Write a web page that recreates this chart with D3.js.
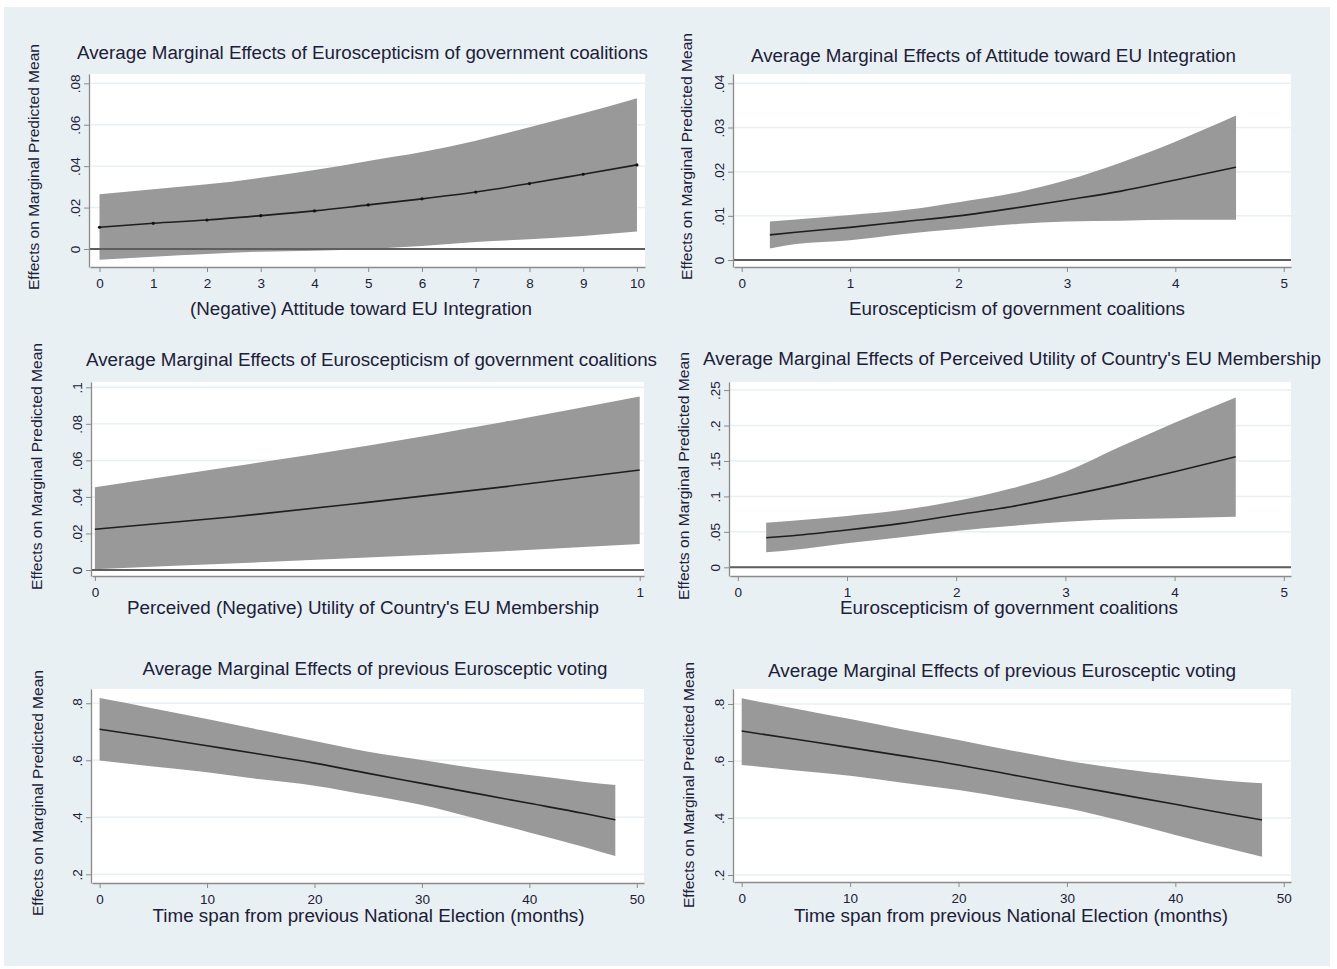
<!DOCTYPE html>
<html>
<head>
<meta charset="utf-8">
<script src="https://cdn.jsdelivr.net/npm/d3@7"></script>
<style>
  body { margin: 0; background: #fff; }
  svg { display: block; font-family: 'Liberation Sans', Arial, sans-serif; }
</style>
</head>
<body>
<svg id="chart" width="1337" height="969"></svg>
<script>
// ---- data ----
const yLabel = 'Effects on Marginal Predicted Mean';

// panel 1
const p1Title = 'Average Marginal Effects of Euroscepticism of government coalitions';
const p1XLabel = '(Negative) Attitude toward EU Integration';
const p1X = [0, 1, 2, 3, 4, 5, 6, 7, 8, 9, 10];
const p1Fit = [0.0105, 0.0124, 0.0140, 0.0161, 0.0184, 0.0213, 0.0242, 0.0275, 0.0316, 0.0361, 0.0406];
const p1Hi = [0.0264, 0.0288, 0.0312, 0.0344, 0.0381, 0.0425, 0.0468, 0.0523, 0.0588, 0.0655, 0.0728];
const p1Lo = [-0.0052, -0.0037, -0.0024, -0.0013, -0.0008, 0.0000, 0.0014, 0.0034, 0.0047, 0.0063, 0.0084];
const p1XTicks = [0, 1, 2, 3, 4, 5, 6, 7, 8, 9, 10];
const p1YTicks = [0, 0.02, 0.04, 0.06, 0.08];
const p1YTickLabels = ['0', '.02', '.04', '.06', '.08'];

// panel 2
const p2Title = 'Average Marginal Effects of Attitude toward EU Integration';
const p2XLabel = 'Euroscepticism of government coalitions';
const p2X = [0.26, 0.5, 1, 1.5, 2, 2.5, 3, 3.5, 4, 4.56];
const p2Fit = [0.0057, 0.0063, 0.0074, 0.0087, 0.0100, 0.0117, 0.0136, 0.0156, 0.0181, 0.0210];
const p2Hi = [0.0087, 0.0092, 0.0102, 0.0113, 0.0131, 0.0151, 0.0181, 0.0221, 0.0268, 0.0327];
const p2Lo = [0.0026, 0.0036, 0.0045, 0.0059, 0.0070, 0.0081, 0.0087, 0.0089, 0.0091, 0.0091];
const p2XTicks = [0, 1, 2, 3, 4, 5];
const p2YTicks = [0, 0.01, 0.02, 0.03, 0.04];
const p2YTickLabels = ['0', '.01', '.02', '.03', '.04'];

// panel 3
const p3Title = 'Average Marginal Effects of Euroscepticism of government coalitions';
const p3XLabel = "Perceived (Negative) Utility of Country's EU Membership";
const p3X = [0, 0.25, 0.5, 0.75, 1];
const p3Fit = [0.0223, 0.0290, 0.0370, 0.0455, 0.0547];
const p3Hi = [0.0453, 0.0565, 0.0680, 0.0810, 0.0949];
const p3Lo = [0.0004, 0.0035, 0.0068, 0.0103, 0.0142];
const p3XTicks = [0, 1];
const p3YTicks = [0, 0.02, 0.04, 0.06, 0.08, 0.1];
const p3YTickLabels = ['0', '.02', '.04', '.06', '.08', '.1'];

// panel 4
const p4Title = "Average Marginal Effects of Perceived Utility of Country's EU Membership";
const p4XLabel = 'Euroscepticism of government coalitions';
const p4X = [0.26, 0.5, 1, 1.5, 2, 2.5, 3, 3.5, 4, 4.56];
const p4Fit = [0.0417, 0.0446, 0.0526, 0.0620, 0.0738, 0.0855, 0.1006, 0.1170, 0.1349, 0.1560];
const p4Hi = [0.0629, 0.0657, 0.0724, 0.0808, 0.0935, 0.1110, 0.1349, 0.1700, 0.2040, 0.2397];
const p4Lo = [0.0211, 0.0244, 0.0338, 0.0423, 0.0512, 0.0582, 0.0643, 0.0677, 0.0691, 0.0714];
const p4XTicks = [0, 1, 2, 3, 4, 5];
const p4YTicks = [0, 0.05, 0.1, 0.15, 0.2, 0.25];
const p4YTickLabels = ['0', '.05', '.1', '.15', '.2', '.25'];

// panel 5
const p5Title = 'Average Marginal Effects of previous Eurosceptic voting';
const p5XLabel = 'Time span from previous National Election (months)';
const p5X = [0, 5, 10, 15, 20, 25, 30, 35, 40, 45, 48];
const p5Fit = [0.709, 0.681, 0.651, 0.621, 0.590, 0.554, 0.519, 0.484, 0.449, 0.414, 0.391];
const p5Hi = [0.818, 0.782, 0.745, 0.706, 0.668, 0.630, 0.601, 0.572, 0.548, 0.525, 0.513];
const p5Lo = [0.599, 0.578, 0.558, 0.533, 0.511, 0.478, 0.443, 0.396, 0.347, 0.297, 0.264];
const p5XTicks = [0, 10, 20, 30, 40, 50];
const p5YTicks = [0.2, 0.4, 0.6, 0.8];
const p5YTickLabels = ['.2', '.4', '.6', '.8'];

// panel 6
const p6Title = 'Average Marginal Effects of previous Eurosceptic voting';
const p6XLabel = 'Time span from previous National Election (months)';
const p6X = [0, 5, 10, 15, 20, 25, 30, 35, 40, 45, 48];
const p6Fit = [0.705, 0.676, 0.647, 0.617, 0.586, 0.551, 0.516, 0.482, 0.448, 0.413, 0.393];
const p6Hi = [0.820, 0.783, 0.747, 0.710, 0.674, 0.636, 0.601, 0.573, 0.550, 0.530, 0.522];
const p6Lo = [0.586, 0.567, 0.548, 0.523, 0.498, 0.467, 0.434, 0.390, 0.340, 0.292, 0.264];
const p6XTicks = [0, 10, 20, 30, 40, 50];
const p6YTicks = [0.2, 0.4, 0.6, 0.8];
const p6YTickLabels = ['.2', '.4', '.6', '.8'];

// ---- layout (plot rectangles, scale domains, text placement) ----
const layout = [
  { left: 90, top: 74, right: 645, bottom: 267, xDom: [-0.177, 10.15], yDom: [-0.0087, 0.0845],
    titleX: 362.5, titleY: 59, titleW: 571, xlabX: 361, xlabY: 315, xlabW: 342, ylabX: 34, ylabY: 167, ylabW: 246 },
  { left: 734, top: 74, right: 1291, bottom: 267, xDom: [-0.071, 5.067], yDom: [-0.00158, 0.04211],
    titleX: 993.5, titleY: 62, titleW: 485, xlabX: 1017, xlabY: 315, xlabW: 336, ylabX: 687, ylabY: 156.5, ylabW: 247 },
  { left: 92, top: 382, right: 644, bottom: 576, xDom: [-0.0053, 1.0079], yDom: [-0.00328, 0.1029],
    titleX: 371.5, titleY: 366, titleW: 571, xlabX: 363, xlabY: 614, xlabW: 472, ylabX: 37, ylabY: 466.5, ylabW: 247 },
  { left: 730, top: 382, right: 1291, bottom: 576, xDom: [-0.0714, 5.066], yDom: [-0.01227, 0.2614],
    titleX: 1012, titleY: 365, titleW: 618, xlabX: 1009, xlabY: 614, xlabW: 338, ylabX: 684, ylabY: 476, ylabW: 248 },
  { left: 92, top: 689, right: 644, bottom: 883, xDom: [-0.707, 50.67], yDom: [0.1695, 0.850],
    titleX: 375, titleY: 675, titleW: 465, xlabX: 368.5, xlabY: 922, xlabW: 432, ylabX: 38, ylabY: 793, ylabW: 246 },
  { left: 734, top: 689, right: 1291, bottom: 882, xDom: [-0.71, 50.67], yDom: [0.1754, 0.8526],
    titleX: 1002, titleY: 677, titleW: 468, xlabX: 1011, xlabY: 922, xlabW: 434, ylabX: 689, ylabY: 785, ylabW: 246 },
];

const panels = [
  { title: p1Title, xlab: p1XLabel, x: p1X, fit: p1Fit, hi: p1Hi, lo: p1Lo, xTicks: p1XTicks, yTicks: p1YTicks, yTickLabels: p1YTickLabels, markers: true, zero: true },
  { title: p2Title, xlab: p2XLabel, x: p2X, fit: p2Fit, hi: p2Hi, lo: p2Lo, xTicks: p2XTicks, yTicks: p2YTicks, yTickLabels: p2YTickLabels, markers: false, zero: true },
  { title: p3Title, xlab: p3XLabel, x: p3X, fit: p3Fit, hi: p3Hi, lo: p3Lo, xTicks: p3XTicks, yTicks: p3YTicks, yTickLabels: p3YTickLabels, markers: false, zero: true },
  { title: p4Title, xlab: p4XLabel, x: p4X, fit: p4Fit, hi: p4Hi, lo: p4Lo, xTicks: p4XTicks, yTicks: p4YTicks, yTickLabels: p4YTickLabels, markers: false, zero: true },
  { title: p5Title, xlab: p5XLabel, x: p5X, fit: p5Fit, hi: p5Hi, lo: p5Lo, xTicks: p5XTicks, yTicks: p5YTicks, yTickLabels: p5YTickLabels, markers: false, zero: false },
  { title: p6Title, xlab: p6XLabel, x: p6X, fit: p6Fit, hi: p6Hi, lo: p6Lo, xTicks: p6XTicks, yTicks: p6YTicks, yTickLabels: p6YTickLabels, markers: false, zero: false },
];

const textColor = '#1c2038';
const bandColor = '#999999';
const axisColor = '#8a8a8a';
const gridColor = '#e9f0f3';

const svg = d3.select('#chart');

// graph region background
svg.append('rect')
  .attr('x', 4).attr('y', 7)
  .attr('width', 1326).attr('height', 959)
  .attr('fill', '#e9f0f3');

panels.forEach((p, i) => {
  const L = layout[i];
  const g = svg.append('g');

  const x = d3.scaleLinear().domain(L.xDom).range([L.left, L.right]);
  const y = d3.scaleLinear().domain(L.yDom).range([L.bottom, L.top]);

  // plot region
  g.append('rect')
    .attr('x', L.left).attr('y', L.top)
    .attr('width', L.right - L.left).attr('height', L.bottom - L.top)
    .attr('fill', '#fff');

  // horizontal grid lines at each y tick
  g.selectAll('.grid')
    .data(p.yTicks)
    .join('line')
      .attr('class', 'grid')
      .attr('x1', L.left).attr('x2', L.right)
      .attr('y1', d => y(d)).attr('y2', d => y(d))
      .attr('stroke', gridColor)
      .attr('stroke-width', 1.5);

  const rows = p.x.map((xv, j) => ({ x: xv, fit: p.fit[j], hi: p.hi[j], lo: p.lo[j] }));

  const area = d3.area()
    .x(d => x(d.x))
    .y0(d => y(d.lo))
    .y1(d => y(d.hi))
    .curve(d3.curveMonotoneX);

  const line = d3.line()
    .x(d => x(d.x))
    .y(d => y(d.fit))
    .curve(d3.curveMonotoneX);

  g.append('path')
    .datum(rows)
    .attr('d', area)
    .attr('fill', bandColor);

  // reference line at zero
  if (p.zero) {
    g.append('line')
      .attr('x1', L.left).attr('x2', L.right)
      .attr('y1', y(0)).attr('y2', y(0))
      .attr('stroke', '#5e5e5e')
      .attr('stroke-width', 2);
  }

  g.append('path')
    .datum(rows)
    .attr('d', line)
    .attr('fill', 'none')
    .attr('stroke', '#1e1e1e')
    .attr('stroke-width', 1.6);

  if (p.markers) {
    g.selectAll('.pt')
      .data(rows)
      .join('circle')
        .attr('class', 'pt')
        .attr('cx', d => x(d.x))
        .attr('cy', d => y(d.fit))
        .attr('r', 1.6)
        .attr('fill', '#111');
  }

  // x axis
  const xAxis = g.append('g')
    .attr('transform', `translate(0, ${L.bottom})`)
    .call(d3.axisBottom(x).tickValues(p.xTicks).tickSize(5).tickSizeOuter(0).tickPadding(6)
      .tickFormat(d3.format('d')))
    .style('font-family', 'Liberation Sans, Arial, sans-serif')
    .style('font-size', '13.5px');
  xAxis.select('.domain').attr('stroke', axisColor).attr('stroke-width', 1.3);
  xAxis.selectAll('.tick line').attr('stroke', axisColor);
  xAxis.selectAll('.tick text').attr('fill', textColor);

  // y axis with vertical tick labels
  const yAxis = g.append('g')
    .attr('transform', `translate(${L.left - 1}, 0)`)
    .call(d3.axisLeft(y).tickValues(p.yTicks).tickSize(5).tickSizeOuter(0)
      .tickFormat((d, j) => p.yTickLabels[j]))
    .style('font-family', 'Liberation Sans, Arial, sans-serif')
    .style('font-size', '13.5px');
  yAxis.select('.domain').attr('stroke', axisColor).attr('stroke-width', 1.3);
  yAxis.selectAll('.tick line').attr('stroke', axisColor);
  yAxis.selectAll('.tick text')
    .attr('fill', textColor)
    .attr('x', null)
    .attr('text-anchor', 'middle')
    .attr('transform', 'translate(-14, 0) rotate(-90)')
    .attr('dy', '0.35em');

  // title
  g.append('text')
    .attr('x', L.titleX).attr('y', L.titleY)
    .attr('text-anchor', 'middle')
    .attr('fill', textColor)
    .style('font-size', '18px')
    .attr('textLength', L.titleW)
    .attr('lengthAdjust', 'spacingAndGlyphs')
    .text(p.title);

  // x axis title
  g.append('text')
    .attr('x', L.xlabX).attr('y', L.xlabY)
    .attr('text-anchor', 'middle')
    .attr('fill', textColor)
    .style('font-size', '18px')
    .attr('textLength', L.xlabW)
    .attr('lengthAdjust', 'spacingAndGlyphs')
    .text(p.xlab);

  // y axis title
  g.append('text')
    .attr('transform', `translate(${L.ylabX}, ${L.ylabY}) rotate(-90)`)
    .attr('text-anchor', 'middle')
    .attr('dy', '0.35em')
    .attr('fill', textColor)
    .style('font-size', '14.5px')
    .attr('textLength', L.ylabW)
    .attr('lengthAdjust', 'spacingAndGlyphs')
    .text(yLabel);
});
</script>
</body>
</html>
